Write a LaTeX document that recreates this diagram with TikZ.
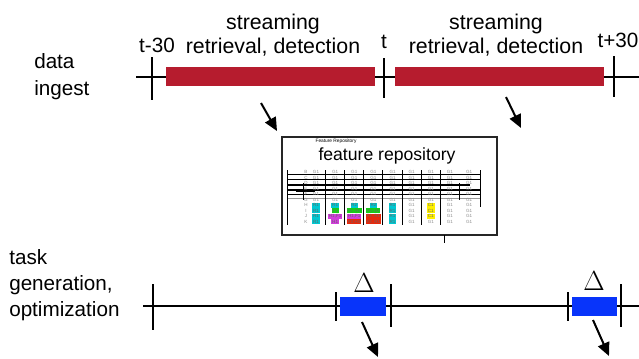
\documentclass[tikz,border=0pt]{standalone}
\usepackage{fontspec}
\setmainfont{Liberation Sans}
\usetikzlibrary{arrows.meta}

\definecolor{ingestred}{RGB}{182,28,46}
\definecolor{taskblue}{RGB}{8,52,250}
\definecolor{cellcyan}{RGB}{0,200,210}
\definecolor{cellgreen}{RGB}{20,210,20}
\definecolor{cellmag}{RGB}{210,60,220}
\definecolor{cellred}{RGB}{235,40,10}
\definecolor{cellyellow}{RGB}{255,240,0}

\tikzset{
  lbl/.style={font=\fontsize{15.5}{18.5}\selectfont, inner sep=0.75pt, align=left},
  timelbl/.style={font=\fontsize{15.5}{18.5}\selectfont, inner sep=0.75pt},
  tick/.style={line width=1.5pt},
  feed/.style={line width=1.5pt, -{Triangle[length=10pt,width=9pt]}},
  cell/.style={font=\fontsize{3.4}{3.4}\selectfont, text=black!45, inner sep=0.2pt},
  hit/.style={cell, text=black!60, minimum height=3.8pt, minimum width=5pt, inner xsep=0.6pt},
}

\begin{document}
\begin{tikzpicture}[x=0.75pt,y=0.75pt,yscale=-1,xscale=1]
\useasboundingbox (0,0) rectangle (639,358);

%Straight Lines: data ingest time line
\draw [line width=1.1pt] (136,77) -- (639,77) ;
%Shape: Rectangle
\fill [ingestred] (166,67) rectangle (375,86) ;
\fill [ingestred] (395,67) rectangle (604,86) ;
%Straight Lines: ticks
\draw [tick] (152,57) -- (152,100) ;
\draw [tick] (384,58) -- (384,98) ;
\draw [tick] (614,56) -- (614,97) ;

% Text Node
\node [lbl, anchor=base west] (ingest) at (33,95) {data\\[1.5pt]ingest};
% Text Node
\node [timelbl] (tminus) at (157,45) {t-30};
\node [timelbl] (tnow) at (384,42) {t};
\node [timelbl] (tplus) at (618,40) {t+30};
% Text Node
\node [lbl, align=center, font=\fontsize{16}{18.5}\selectfont] (stream1) at (273,35) {streaming\\retrieval, detection};
\node [lbl, align=center, font=\fontsize{16}{18.5}\selectfont] (stream2) at (496,35) {streaming\\retrieval, detection};

%Straight Lines: arrows into the repository
\coordinate (s1) at (261,103) ;
\coordinate (e1) at (277,131) ;
\coordinate (s2) at (506,97) ;
\coordinate (e2) at (521,128) ;
\draw [feed] (s1) -- (e1) ;
\draw [feed] (s2) -- (e2) ;

%Shape: Rectangle: feature repository
\draw [line width=1.2pt, draw=black!85, fill=white] (282,137) rectangle (497,235) ;
\draw [line width=0.6pt] (444,235) -- (444,243) ;
\node [font=\fontsize{3.6}{4}\selectfont, inner sep=0pt] (repsmall) at (336,141) {Feature Repository};
\node [font=\fontsize{13.2}{15}\selectfont, inner sep=0.75pt] (reptitle) at (387,156) {feature repository};

% grid of the repository
\draw [black!40, line width=0.6pt] (287,198) -- (480,198) ;
\foreach \y/\x in {174.5/480,179.5/480,185/470,190/480,194.5/480}
  \draw [line width=0.8pt] (287,\y) -- (\x,\y) ;
\draw [line width=0.8pt] (296,191.5) -- (315,191.5) ;
\foreach \x in {287,325.5,344.5,363.5,382.5,402,421.5,440.5}
  \draw [line width=0.7pt] (\x,170) -- (\x,225) ;
\draw [line width=0.7pt] (303,183) -- (303,200) ;
\draw [line width=0.7pt] (459,183) -- (459,200) ;
\draw [line width=0.7pt] (480,170) -- (480,207) ;

% row labels and plain cells
\foreach \r [count=\i from 0] in {B,C,D,E,F,G,H,I,J,K}
  \coordinate (r\r) at (306,172+5.55*\i) ;
\foreach \r in {B,C,D,E,F,G,H,I,J,K}
  \node [cell] (row\r) at (r\r) {\r};
\foreach \r in {B,C,D,E,F,G}
  \foreach \c in {0,...,8}
    \node [cell] (c\r\c) at ([xshift=7.5pt+14.35pt*\c]r\r) {G1};
\foreach \r/\c in {H/5,H/7,H/8,I/5,I/7,I/8,J/5,J/7,J/8,K/5,K/6,K/7,K/8}
  \node [cell] (c\r\c) at ([xshift=7.5pt+14.35pt*\c]r\r) {G1};
% marked cells
\foreach \c/\r/\col/\txt in {
  0/H/cellcyan/R1, 0/I/cellcyan/R1, 0/J/cellcyan/R1, 0/K/cellcyan/R1,
  1/H/cellcyan/R1, 1/I/cellgreen/F1, 1/J/cellmag/{H1,F1}, 1/K/cellmag/H1,
  2/H/cellcyan/R2, 2/I/cellgreen/{F2, R1}, 2/J/cellmag/{H1,F1}, 2/K/cellred/{F2,H1},
  3/H/cellcyan/R2, 3/I/cellgreen/{F2,H2}, 3/J/cellred/{F2, R1}, 3/K/cellred/{F2, R1},
  4/H/cellcyan/R1, 4/I/cellcyan/R1, 4/J/cellcyan/R1, 4/K/cellcyan/R1,
  6/H/cellyellow/C1, 6/I/cellyellow/C1, 6/J/cellyellow/C1}
  \node [hit, fill=\col] (c\r\c) at ([xshift=7.5pt+14.35pt*\c]r\r) {\txt};

%Straight Lines: task generation time line
\draw [line width=1.1pt] (143,306) -- (639,306) ;
\fill [taskblue] (340,297) rectangle (386,316) ;
\fill [taskblue] (572,297) rectangle (617,316) ;
\draw [tick] (153,284) -- (153,330) ;
\draw [tick] (336,292) -- (336,321) ;
\draw [tick] (391,284) -- (391,327) ;
\draw [tick] (568,292) -- (568,321) ;
\draw [tick] (621,284) -- (621,327) ;

% Text Node
\node [lbl, anchor=base west] (taskgen) at (8,316) {task\\[1pt]generation,\\[1pt]optimization};
% Text Node
\node [font=\fontsize{21}{22}\selectfont, inner sep=0.75pt] (delta1) at (364,283) {$\Delta$};
\node [font=\fontsize{21}{22}\selectfont, inner sep=0.75pt] (delta2) at (594,281) {$\Delta$};

%Straight Lines: arrows out of the tasks
\coordinate (s3) at (362,322) ;
\coordinate (e3) at (378,357) ;
\coordinate (s4) at (593,320) ;
\coordinate (e4) at (609,356) ;
\draw [feed] (s3) -- (e3) ;
\draw [feed] (s4) -- (e4) ;

\end{tikzpicture}
\end{document}
